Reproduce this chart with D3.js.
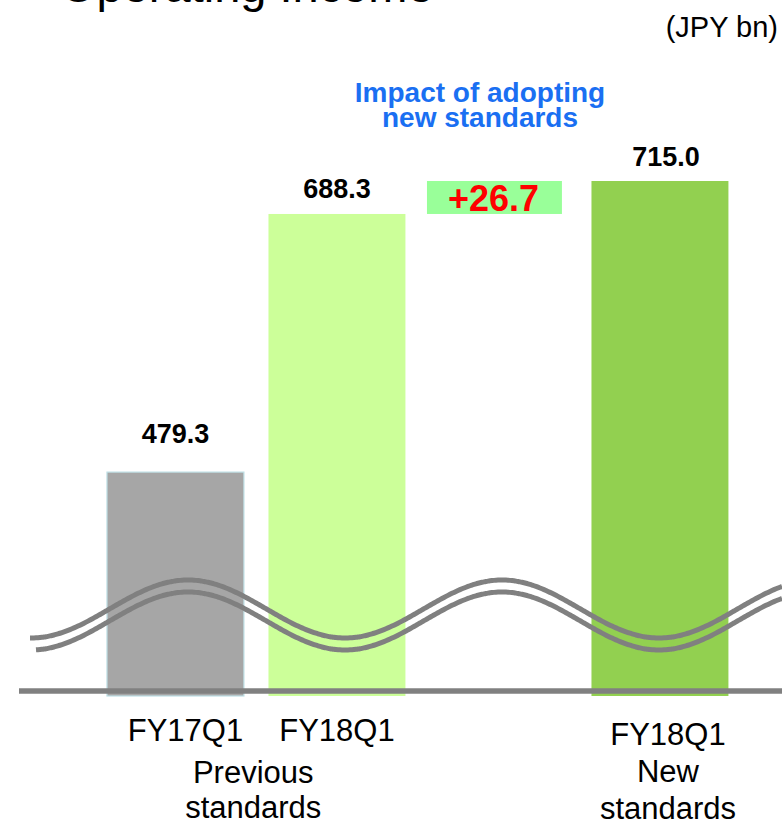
<!DOCTYPE html>
<html>
<head>
<meta charset="utf-8">
<script src="https://cdn.jsdelivr.net/npm/d3@7"></script>
<style>
  html, body { margin: 0; padding: 0; background: #fff; }
  svg { display: block; font-family: "Liberation Sans", Arial, sans-serif; }
</style>
</head>
<body>
<svg id="chart" width="782" height="823"></svg>
<script>
// Operating income, JPY bn
const categories = ["FY17Q1", "FY18Q1", "Impact", "FY18Q1 New"];
const barKeys    = ["FY17Q1", "FY18Q1", "FY18Q1 New"];
const barValues  = [479.3, 688.3, 715.0];
const barLabels  = ["479.3", "688.3", "715.0"];
const impactFrom = 688.3;
const impactTo   = 715.0;
const impactLabel = "+26.7";
const axisLabelLines = [
  ["FY17Q1"],
  ["FY18Q1"],
  ["FY18Q1", "New", "standards"]
];
const groupCaption = ["Previous", "standards"];

// Layout / styling (kept apart from the data)
const barColors = ["#a6a6a6", "#ccff99", "#92d050"];
const labelLift = [29, 16, 15];
const labelDx   = [10, 0, 8];

const svg = d3.select("#chart");

const x = d3.scaleBand()
  .domain(categories)
  .range([94.7, 740.7])
  .paddingInner(0.152)
  .paddingOuter(0.076);

// Truncated value axis (broken below ~298)
const y = d3.scaleLinear().domain([298, 715]).range([696, 181]);

// Title (partly above the visible area)
svg.append("text")
  .attr("x", 60).attr("y", 2)
  .attr("font-size", 47)
  .attr("fill", "#000")
  .text("Operating Income");

svg.append("text")
  .attr("x", 778).attr("y", 37)
  .attr("text-anchor", "end")
  .attr("font-size", 29)
  .attr("fill", "#000")
  .text("(JPY bn)");

// Bars
const bars = barKeys.map((k, i) => ({ key: k, value: barValues[i], label: barLabels[i], i }));

svg.append("g").selectAll("rect")
  .data(bars)
  .join("rect")
  .attr("x", d => x(d.key))
  .attr("y", d => y(d.value))
  .attr("width", x.bandwidth())
  .attr("height", d => y.range()[0] - y(d.value))
  .attr("fill", d => barColors[d.i])
  .attr("stroke", d => d.i === 0 ? "#bfe0e6" : "none")
  .attr("stroke-width", 1.2);

// Value labels
svg.append("g").selectAll("text")
  .data(bars)
  .join("text")
  .attr("x", d => x(d.key) + x.bandwidth() / 2 + (d.i === 2 ? 6 : 0))
  .attr("y", d => y(d.value) - labelLift[d.i])
  .attr("text-anchor", "middle")
  .attr("font-size", 27)
  .attr("font-weight", "bold")
  .attr("fill", "#000")
  .text(d => d.label);

// Impact of the new standards
svg.append("rect")
  .attr("x", x("Impact") - 3)
  .attr("y", y(impactTo))
  .attr("width", x.bandwidth() - 2)
  .attr("height", y(impactFrom) - y(impactTo))
  .attr("fill", "#99ff99");

svg.append("text")
  .attr("x", x("Impact") + x.bandwidth() / 2 - 5)
  .attr("y", y(impactFrom) - 3)
  .attr("text-anchor", "middle")
  .attr("font-size", 36)
  .attr("font-weight", "bold")
  .attr("fill", "#ff0000")
  .text(impactLabel);

const impactTitle = svg.append("text")
  .attr("text-anchor", "middle")
  .attr("font-size", 28)
  .attr("font-weight", "bold")
  .attr("fill", "#1a6ff2");
impactTitle.append("tspan").attr("x", 480).attr("y", 102).text("Impact of adopting");
impactTitle.append("tspan").attr("x", 480).attr("y", 127).text("new standards");

// Axis-break waves
const waveTop = d3.range(30, 783, 2).map(px => [px, 609 - 29 * Math.cos(2 * Math.PI * (px - 188) / 314)]);
const waveBot = d3.range(36, 783, 2).map(px => [px, 621 - 29 * Math.cos(2 * Math.PI * (px - 188) / 314)]);
const line = d3.line().curve(d3.curveBasis);
[waveTop, waveBot].forEach(w => {
  svg.append("path")
    .attr("d", line(w))
    .attr("fill", "none")
    .attr("stroke", "#808080")
    .attr("stroke-width", 5);
});

// Baseline
svg.append("line")
  .attr("x1", 19).attr("x2", 782)
  .attr("y1", 691).attr("y2", 691)
  .attr("stroke", "#808080")
  .attr("stroke-width", 5.5);

// Category labels
const catGroup = svg.append("g")
  .attr("font-size", 31)
  .attr("fill", "#000")
  .attr("text-anchor", "middle");

bars.forEach(d => {
  const t = catGroup.append("text");
  axisLabelLines[d.i].forEach((s, j) => {
    t.append("tspan")
      .attr("x", x(d.key) + x.bandwidth() / 2 + labelDx[d.i])
      .attr("y", (d.i === 2 ? 745 : 741) + j * (d.i === 2 ? 37 : 38))
      .text(s);
  });
});

const capText = catGroup.append("text");
groupCaption.forEach((s, j) => {
  capText.append("tspan")
    .attr("x", (x("FY17Q1") + x("FY18Q1") + x.bandwidth()) / 2 - 3)
    .attr("y", 783 + j * 35)
    .text(s);
});
</script>
</body>
</html>
